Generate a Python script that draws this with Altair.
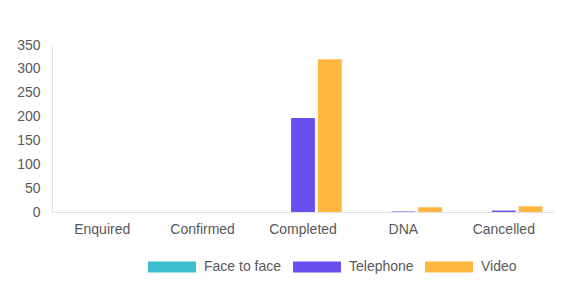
import altair as alt
import pandas as pd

categories = ["Enquired", "Confirmed", "Completed", "DNA", "Cancelled"]
series = ["Face to face", "Telephone", "Video"]
face_to_face = [0, 0, 0, 0, 0]
telephone = [0, 0, 197, 1, 3]
video = [0, 0, 320, 10, 12]
colors = ["#3bbfcc", "#6a4ff0", "#ffb740"]

rows = []
for name, vals in zip(series, [face_to_face, telephone, video]):
    for c, v in zip(categories, vals):
        rows.append({"Status": c, "Type": name, "Count": v})
df = pd.DataFrame(rows)

FONT = "Liberation Sans"
swatch = "M-2.18,-0.5H2.18V0.5H-2.18Z"

chart = alt.Chart(df).mark_bar().encode(
    x=alt.X("Status:N", sort=categories, title=None,
            scale=alt.Scale(paddingInner=0.2, paddingOuter=0.1),
            axis=alt.Axis(labelAngle=0, labelFont=FONT, labelFontSize=14,
                          labelColor="#595959", labelPadding=10, ticks=False,
                          domainColor="#e0e0e0", grid=False)),
    xOffset=alt.XOffset("Type:N", sort=series,
                        scale=alt.Scale(paddingInner=0.11, paddingOuter=0.055)),
    y=alt.Y("Count:Q", title=None,
            scale=alt.Scale(domain=[0, 350], nice=False),
            axis=alt.Axis(values=[0, 50, 100, 150, 200, 250, 300, 350],
                          labelFont=FONT, labelFontSize=14, labelColor="#595959",
                          labelPadding=12, ticks=False, grid=False,
                          domainColor="#e0e0e0")),
    color=alt.Color("Type:N", sort=series, title=None,
                    scale=alt.Scale(domain=series, range=colors),
                    legend=alt.Legend(orient="none", legendX=109, legendY=211,
                                      direction="horizontal", symbolType=swatch,
                                      symbolSize=484, symbolStrokeWidth=0,
                                      symbolOpacity=1,
                                      labelFont=FONT, labelFontSize=14,
                                      labelColor="#595959", labelOffset=21,
                                      columnPadding=11)),
).properties(
    width=502, height=167,
    autosize=alt.AutoSizeParams(type="none"),
    padding={"left": 44, "top": 37, "right": 4, "bottom": 73},
).configure(background="white").configure_view(stroke=None)

chart.save("out.html", embed_options={"renderer": "svg", "actions": False})
